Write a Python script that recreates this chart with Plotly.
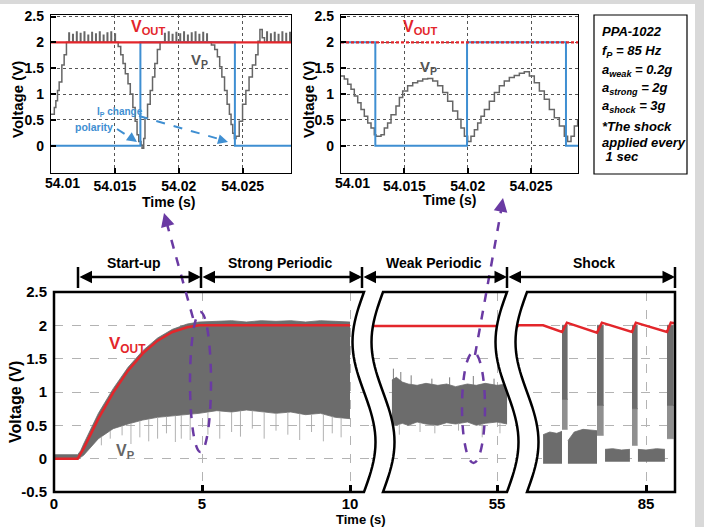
import math
import numpy as np
import plotly.graph_objects as go

# ------------------------------------------------------------------ DATA
# Top-left zoom (t = 54.01 ... 54.0288 s): Vp staircase, IP and VOUT
tl_vp_t = [54.01000, 54.01026, 54.01038, 54.01051, 54.01064, 54.01085, 54.01103, 54.01121,
           54.01526, 54.01546, 54.01564, 54.01582, 54.01603, 54.01621, 54.01641, 54.01659,
           54.01674, 54.01687, 54.01705, 54.01713, 54.01726, 54.01736, 54.01756, 54.01777,
           54.01795, 54.01813, 54.01833, 54.01854,
           54.02256, 54.02282, 54.02303, 54.02321, 54.02338, 54.02359, 54.02379, 54.02397,
           54.02410, 54.02423, 54.02436, 54.02449, 54.02474, 54.02500, 54.02526, 54.02551,
           54.02577, 54.02603, 54.02621, 54.02636, 54.02654, 54.02672, 54.02880]
tl_vp_v = [0.61, 0.74, 0.87, 1.07, 1.23, 1.56, 1.76, 2.00,
           1.92, 1.76, 1.59, 1.39, 1.20, 1.00, 0.74, 0.47,
           0.21, 0.08, 0.01, -0.05, 0.14, 0.54, 0.80, 1.07,
           1.33, 1.59, 1.86, 2.00,
           1.95, 1.86, 1.72, 1.53, 1.33, 1.07, 0.80, 0.61,
           0.41, 0.24, 0.14, 0.18, 0.47, 0.80, 1.07, 1.33,
           1.56, 1.76, 2.02, 2.25, 2.09, 2.00, 2.00]
tl_spike_t = [54.0114, 54.0117, 54.0120, 54.0123, 54.0126, 54.0129, 54.0132, 54.0135,
              54.0138, 54.0141, 54.0144, 54.0147, 54.0150,
              54.0189, 54.0192, 54.0195, 54.0198, 54.0201, 54.0204, 54.0207, 54.0210,
              54.0213, 54.0216, 54.0219, 54.0222,
              54.0269, 54.0272, 54.0275, 54.0278, 54.0281, 54.0284, 54.0287]
tl_spike_v = [2.18, 2.15, 2.20, 2.17, 2.20, 2.14, 2.19, 2.16, 2.20, 2.14, 2.18, 2.20, 2.16,
              2.17, 2.20, 2.15, 2.19, 2.16, 2.20, 2.14, 2.18, 2.20, 2.15, 2.19, 2.16,
              2.20, 2.16, 2.19, 2.15, 2.20, 2.17, 2.19]
tl_ip_t = [54.0100, 54.0170, 54.0244, 54.0288]
tl_ip_v = [0.0, 2.0, 0.0, 0.0]
tl_vout_t = [54.0100, 54.0288]
tl_vout_v = [2.0, 2.0]

# Top-right zoom
tr_vp_t = [54.01000, 54.01026, 54.01053, 54.01079, 54.01105, 54.01132, 54.01158, 54.01184,
           54.01211, 54.01237, 54.01263, 54.01276, 54.01316, 54.01342, 54.01368, 54.01395,
           54.01434, 54.01461, 54.01487, 54.01526, 54.01566, 54.01605, 54.01645, 54.01684,
           54.01724, 54.01763, 54.01803, 54.01842, 54.01882, 54.01921, 54.01947, 54.01974,
           54.02000, 54.02026, 54.02053, 54.02079, 54.02105, 54.02132, 54.02171, 54.02211,
           54.02250, 54.02289, 54.02329, 54.02368, 54.02408, 54.02447, 54.02487, 54.02526,
           54.02566, 54.02605, 54.02645, 54.02684, 54.02724, 54.02763, 54.02789, 54.02816,
           54.02842, 54.02868]
tr_vp_v = [1.35, 1.29, 1.19, 1.09, 0.96, 0.83, 0.70, 0.57,
           0.44, 0.34, 0.21, 0.18, 0.21, 0.34, 0.44, 0.60,
           0.77, 0.93, 1.06, 1.16, 1.22, 1.25, 1.29, 1.30,
           1.25, 1.16, 1.03, 0.86, 0.67, 0.51, 0.34, 0.18,
           0.08, 0.18, 0.31, 0.44, 0.57, 0.70, 0.86, 1.03,
           1.16, 1.25, 1.32, 1.36, 1.40, 1.43, 1.35, 1.22,
           1.06, 0.90, 0.70, 0.54, 0.38, 0.18, 0.08, 0.18,
           0.38, 0.51]
tr_ip_t = [54.0100, 54.01271, 54.01995, 54.02776, 54.0288]
tr_ip_v = [2.0, 0.0, 2.0, 0.0, 0.0]
tr_vout_t = [54.0100, 54.0288]
tr_vout_v = [2.0, 2.0]

# Main chart, segment 1 (start-up + strong periodic), t in s
s1_t = [0, 0.8, 0.9, 1.0, 1.5, 2.0, 2.5, 3.0, 3.5, 4.0, 4.5, 4.9, 5.5, 6.0, 6.5,
        7.0, 7.5, 8.0, 8.5, 9.0, 9.5, 10.0]
s1_vp_hi = [0.06, 0.06, 0.12, 0.22, 0.68, 1.05, 1.37, 1.62, 1.81, 1.94, 2.02, 2.05, 2.06,
            2.07, 2.05, 2.07, 2.06, 2.07, 2.05, 2.07, 2.06, 2.05]
s1_vp_lo = [-0.01, -0.01, 0.02, 0.05, 0.30, 0.45, 0.52, 0.58, 0.62, 0.64, 0.66, 0.68, 0.72,
            0.70, 0.73, 0.70, 0.68, 0.70, 0.66, 0.68, 0.62, 0.60]
s1_dip_t = [1.6, 1.9, 2.3, 2.6, 2.9, 3.2, 3.5, 3.8, 4.1, 4.3, 4.6, 5.2, 5.6, 6.0, 6.3,
            6.7, 7.1, 7.5, 7.9, 8.3, 8.7, 9.1, 9.4, 9.7]
s1_dip_v = [0.20, 0.30, 0.35, 0.22, 0.32, 0.26, 0.30, 0.38, 0.25, 0.30, 0.28, 0.36, 0.30,
            0.40, 0.33, 0.45, 0.30, 0.42, 0.36, 0.28, 0.40, 0.26, 0.38, 0.32]
s1_vout_t = [0, 0.8, 1.0, 1.5, 2.0, 2.5, 3.0, 3.5, 4.0, 4.5, 4.9, 10.0]
s1_vout_v = [0, 0, 0.15, 0.60, 0.99, 1.32, 1.58, 1.77, 1.90, 1.97, 2.00, 2.00]

# Segment 2 (weak periodic)
s2_t = [51.45, 51.6, 51.8, 52.0, 52.3, 52.6, 53.0, 53.3, 53.6, 54.0, 54.3, 54.6, 55.0, 55.34]
s2_vp_hi = [1.18, 1.22, 1.15, 1.12, 1.10, 1.13, 1.10, 1.12, 1.08, 1.12, 1.10, 1.13, 1.10, 1.12]
s2_vp_lo = [0.52, 0.50, 0.53, 0.50, 0.55, 0.52, 0.50, 0.54, 0.52, 0.55, 0.50, 0.53, 0.55, 0.52]
s2_peak_t = [51.5, 51.75, 52.1, 52.8, 53.4, 54.2, 54.9]
s2_peak_v = [1.35, 1.30, 1.25, 1.20, 1.22, 1.24, 1.20]
s2_dip_t = [51.7, 52.4, 52.9, 53.7, 54.5, 55.1]
s2_dip_v = [0.36, 0.40, 0.38, 0.42, 0.32, 0.38]
s2_vout_t = [50.7, 55.8]
s2_vout_v = [1.99, 1.99]

# Segment 3 (shock every 1 s): low-level Vp blocks between shocks
s3_block_t = [[82.06, 82.25, 82.45, 82.60],
              [82.77, 82.95, 83.20, 83.45, 83.60],
              [83.83, 84.05, 84.30, 84.54],
              [84.77, 85.00, 85.30, 85.54],
              [85.80, 85.86]]
s3_block_hi = [[0.36, 0.40, 0.38, 0.41],
               [0.27, 0.40, 0.44, 0.43, 0.42],
               [0.14, 0.15, 0.13, 0.14],
               [0.14, 0.13, 0.15, 0.14],
               [0.14, 0.14]]
s3_block_lo = [[-0.07, -0.07, -0.07, -0.07],
               [-0.07, -0.07, -0.07, -0.07, -0.07],
               [-0.04, -0.04, -0.04, -0.04],
               [-0.04, -0.04, -0.04, -0.04],
               [-0.04, -0.04]]
# shock bursts: start, end, top, bottom of dense part, bottom of faint part
s3_shock_t0 = [82.60, 83.60, 84.60, 85.60]
s3_shock_t1 = [82.76, 83.79, 84.76, 85.79]
s3_shock_top = [2.00, 2.00, 2.00, 2.00]
s3_shock_dense = [0.89, 0.80, 0.75, 0.80]
s3_shock_faint = [0.44, 0.35, 0.20, 0.30]
s3_vout_t = [81.26, 82.06, 82.60, 82.74, 83.60, 83.74, 84.60, 84.71, 85.60, 85.71, 85.86]
s3_vout_v = [2.00, 2.00, 1.90, 2.04, 1.89, 2.04, 1.90, 2.04, 1.90, 2.04, 2.03]

top_xticks = [54.015, 54.02, 54.025]
top_yticks = [0, 0.5, 1, 1.5, 2, 2.5]
main_yticks = [-0.5, 0, 0.5, 1, 1.5, 2, 2.5]
main_ylabels = ["-0.5", "0", "0.5", "1", "1.5", "2", "2.5"]

# ------------------------------------------------------------------ STYLE / LAYOUT HELPERS
W, H = 704, 527
def X(px): return px / W
def Y(py): return 1 - py / H

FONT = "Liberation Sans"
RED = "#e3262b"
BLUE = "#3f8fd2"
GRAY = "#6c6c6c"
LGRAY = "#a8a8a8"
PURPLE = "#6a3aa3"

fig = go.Figure()

def line(x, y, xa, ya, color, width, shape="linear", dash="solid"):
    fig.add_trace(go.Scatter(x=x, y=y, xaxis=xa, yaxis=ya, mode="lines",
                             line=dict(color=color, width=width, shape=shape, dash=dash),
                             hoverinfo="skip", showlegend=False))

def with_spikes(bt, bv, st, sv, w=0.00004, level=2.0):
    pts = list(zip(bt, bv))
    for t, v in zip(st, sv):
        pts.append((t, v))
        pts.append((t + w, level))
    pts.sort(key=lambda p: p[0])
    return [p[0] for p in pts], [p[1] for p in pts]

def band(t, lo, hi, xa, ya, color=GRAY):
    fig.add_trace(go.Scatter(x=t, y=lo, xaxis=xa, yaxis=ya, mode="lines",
                             line=dict(color=color, width=0.8), hoverinfo="skip", showlegend=False))
    fig.add_trace(go.Scatter(x=t, y=hi, xaxis=xa, yaxis=ya, mode="lines", fill="tonexty",
                             fillcolor=color, line=dict(color=color, width=0.8),
                             hoverinfo="skip", showlegend=False))

def vlines(ts, base_t, base_v, tips, xa, ya, color, width=1.0):
    xs, ys = [], []
    for t, v in zip(ts, tips):
        b = float(np.interp(t, base_t, base_v))
        xs += [t, t, None]
        ys += [b, v, None]
    line(xs, ys, xa, ya, color, width)

# ------------------------------------------------------------------ TRACES
vx, vy = with_spikes(tl_vp_t, tl_vp_v, tl_spike_t, tl_spike_v)
line(vx, vy, "x", "y", "#666666", 1.5, shape="hv")
line(tl_ip_t, tl_ip_v, "x", "y", BLUE, 2, shape="hv")
line(tl_vout_t, tl_vout_v, "x", "y", RED, 2.2)

line(tr_vp_t, tr_vp_v, "x2", "y2", "#666666", 1.5, shape="hv")
line(tr_ip_t, tr_ip_v, "x2", "y2", BLUE, 2, shape="hv")
line(tr_vout_t, tr_vout_v, "x2", "y2", RED, 2.2, dash="3px,2px")

band(s1_t, s1_vp_lo, s1_vp_hi, "x3", "y3")
vlines(s1_dip_t, s1_t, s1_vp_lo, s1_dip_v, "x3", "y3", LGRAY, 0.9)
line(s1_vout_t, s1_vout_v, "x3", "y3", RED, 2.5)

band(s2_t, s2_vp_lo, s2_vp_hi, "x4", "y4")
vlines(s2_peak_t, s2_t, s2_vp_hi, s2_peak_v, "x4", "y4", GRAY, 0.9)
vlines(s2_dip_t, s2_t, s2_vp_lo, s2_dip_v, "x4", "y4", LGRAY, 0.9)
line(s2_vout_t, s2_vout_v, "x4", "y4", RED, 2.5)

for bt, bh, bl in zip(s3_block_t, s3_block_hi, s3_block_lo):
    band(bt, bl, bh, "x5", "y5")
for t0, t1, top, dn, fb in zip(s3_shock_t0, s3_shock_t1, s3_shock_top, s3_shock_dense, s3_shock_faint):
    band([t0, t1], [fb, fb], [dn, dn], "x5", "y5", color="#8f8f8f")
    band([t0, t1], [dn, dn], [top, top], "x5", "y5")
line(s3_vout_t, s3_vout_v, "x5", "y5", RED, 2.5)

# ------------------------------------------------------------------ AXES
tickfont_top = dict(family=FONT, size=14, color="black", weight="bold")
tickfont_main = dict(family=FONT, size=15, color="black", weight="bold")

def top_x(dom, rng, anchor):
    return dict(domain=[X(dom[0]), X(dom[1])], range=rng, anchor=anchor,
                tickvals=top_xticks, ticktext=["54.015", "54.02", "54.025"],
                ticks="inside", ticklen=5, tickwidth=2, tickcolor="black",
                showgrid=True, gridcolor="#555555", griddash="dot", gridwidth=1,
                showline=True, mirror=True, linecolor="black", linewidth=1.3,
                zeroline=False, tickfont=tickfont_top, ticklabelstandoff=0, automargin=False)

def top_y(anchor):
    return dict(domain=[Y(173), Y(15)], range=[-0.53, 2.53], anchor=anchor,
                tickvals=top_yticks, ticktext=["0", "0.5", "1", "1.5", "2", "2.5"],
                ticks="inside", ticklen=5, tickwidth=2, tickcolor="black",
                showgrid=True, gridcolor="#555555", griddash="dot", gridwidth=1,
                showline=True, mirror=True, linecolor="black", linewidth=1.3,
                zeroline=False, tickfont=tickfont_top, ticklabelstandoff=3, automargin=False)

PXS1 = 29.6   # px per second, segments 1-2
PXS3 = 35.0   # px per second, segment 3

def main_x(dom, rng, anchor, tv):
    return dict(domain=[X(dom[0]), X(dom[1])], range=rng, anchor=anchor,
                tickvals=tv, ticktext=[str(v) for v in tv],
                ticks="inside", ticklen=7, tickwidth=2.5, tickcolor="black",
                showgrid=True, gridcolor="#b3b3b3", griddash="dash", gridwidth=1,
                showline=False, zeroline=False, tickfont=tickfont_main, ticklabelstandoff=1,
                automargin=False)

def main_y(anchor, labels):
    return dict(domain=[Y(492), Y(292)], range=[-0.5, 2.5], anchor=anchor,
                tickvals=main_yticks, ticktext=main_ylabels, showticklabels=labels,
                ticks="", showgrid=True, gridcolor="#b3b3b3", griddash="dash", gridwidth=1,
                showline=False, zeroline=False, tickfont=tickfont_main, ticklabelstandoff=6,
                automargin=False)

fig.update_layout(
    width=W, height=H, margin=dict(l=0, r=0, t=0, b=0, pad=0, autoexpand=False), autosize=False,
    paper_bgcolor="white", plot_bgcolor="rgba(0,0,0,0)", showlegend=False,
    font=dict(family=FONT),
    xaxis=top_x((51, 291), [54.01, 54.01 + 240 / 12770], "y"),
    yaxis=top_y("x"),
    xaxis2=top_x((341, 578), [54.01, 54.01 + 237 / 12667], "y2"),
    yaxis2=top_y("x2"),
    xaxis3=main_x((54, 376), [0, (376 - 54) / PXS1], "y3", [0, 5, 10]),
    yaxis3=main_y("x3", True),
    xaxis4=main_x((371, 519), [55 + (371 - 497) / PXS1, 55 + (519 - 497) / PXS1], "y4", [55]),
    yaxis4=main_y("x4", False),
    xaxis5=main_x((515, 675), [85 + (515 - 646) / PXS3, 85 + (675 - 646) / PXS3], "y5", [85]),
    yaxis5=main_y("x5", False),
)

# ------------------------------------------------------------------ SHAPES
shapes = []
shapes.append(dict(type="rect", xref="paper", yref="paper", x0=0, x1=1, y0=Y(4), y1=1,
                   fillcolor="#d9d9d9", line=dict(width=0), layer="below"))
shapes.append(dict(type="rect", xref="paper", yref="paper", x0=X(695), x1=1, y0=0, y1=1,
                   fillcolor="#d9d9d9", line=dict(width=0), layer="below"))

YT, YB, AMP = 292, 492, 11.5
def curve(x0, down=True, n=40):
    ys = [YT + (YB - YT) * i / n for i in range(n + 1)]
    if not down:
        ys = ys[::-1]
    return [(x0 - AMP * math.sin(2 * math.pi * (y - YT) / (YB - YT)), y) for y in ys]

def path(pts, close=True):
    s = "M " + " L ".join(f"{X(px):.5f},{Y(py):.5f}" for px, py in pts)
    return s + (" Z" if close else "")

for xl, xr in [(364, 383), (507, 527)]:
    shapes.append(dict(type="path", xref="paper", yref="paper",
                       path=path(curve(xl, True) + curve(xr, False)),
                       fillcolor="white", line=dict(width=0), layer="above"))
FR = dict(color="black", width=2.5)
shapes.append(dict(type="path", xref="paper", yref="paper", layer="above", line=FR,
                   path=path([(54, YT)] + curve(364, True) + [(54, YB)])))
shapes.append(dict(type="path", xref="paper", yref="paper", layer="above", line=FR,
                   path=path(curve(507, True) + curve(383, False))))
shapes.append(dict(type="path", xref="paper", yref="paper", layer="above", line=FR,
                   path=path([(675, YT), (675, YB)] + curve(527, False))))

for xb in [78, 201, 362, 507, 675]:
    shapes.append(dict(type="line", xref="paper", yref="paper", x0=X(xb), x1=X(xb),
                       y0=Y(288), y1=Y(267), line=dict(color="black", width=2.5)))

shapes.append(dict(type="rect", xref="paper", yref="paper", x0=X(594), x1=X(687),
                   y0=Y(174), y1=Y(15), line=dict(color="black", width=1.2), fillcolor="white",
                   layer="below"))

PD = dict(color=PURPLE, width=2.5, dash="dash")
shapes.append(dict(type="circle", xref="paper", yref="paper", x0=X(190), x1=X(211),
                   y0=Y(452), y1=Y(312), line=PD, layer="above"))
shapes.append(dict(type="circle", xref="paper", yref="paper", x0=X(462), x1=X(485),
                   y0=Y(463), y1=Y(352), line=PD, layer="above"))
shapes.append(dict(type="line", xref="paper", yref="paper", x0=X(193), y0=Y(318),
                   x1=X(167), y1=Y(224), line=PD, layer="above"))
shapes.append(dict(type="line", xref="paper", yref="paper", x0=X(475), y0=Y(355),
                   x1=X(501), y1=Y(211), line=PD, layer="above"))

BD = dict(color=BLUE, width=2, dash="dash")
shapes.append(dict(type="line", xref="paper", yref="paper", x0=X(117), y0=Y(129),
                   x1=X(131), y1=Y(138), line=BD))
shapes.append(dict(type="line", xref="paper", yref="paper", x0=X(139), y0=Y(116),
                   x1=X(219), y1=Y(139), line=BD))
fig.update_layout(shapes=shapes)

# ------------------------------------------------------------------ ANNOTATIONS
def txt(s, x, y, size, color="black", xanchor="center", angle=0, italic=False):
    fig.add_annotation(text=s, x=X(x), y=Y(y), xref="paper", yref="paper", showarrow=False,
                       xanchor=xanchor, yanchor="middle", textangle=angle,
                       font=dict(family=FONT, size=size, color=color, weight="bold",
                                 style="italic" if italic else "normal"))

def head(tx, ty, ax, ay, color, width, size=1.0):
    fig.add_annotation(x=X(tx), y=Y(ty), xref="paper", yref="paper", ax=ax, ay=ay,
                       axref="pixel", ayref="pixel", text="", showarrow=True,
                       arrowhead=2, arrowsize=size, arrowwidth=width, arrowcolor=color)

txt("Voltage (V)", 18, 100, 15, angle=-90)
txt("Voltage (V)", 309, 100, 15, angle=-90)
txt("Time (s)", 168, 202, 14)
txt("Time (s)", 449, 200, 14)
txt("54.01", 62, 183, 14)
txt("54.01", 352, 183, 14)
txt("Voltage (V)", 15, 402, 16, angle=-90)
txt("Time (s)", 361, 519, 13)

txt("V<sub>OUT</sub>", 148, 28, 16, RED)
txt("V<sub>OUT</sub>", 420, 28, 16, RED)
txt("V<sub>P</sub>", 199, 61, 15, "#555555")
txt("V<sub>P</sub>", 428, 67, 15, "#555555")
txt("I<sub>P</sub> change", 95, 112, 10, BLUE, xanchor="left")
txt("polarity", 94, 127, 10.5, BLUE)
txt("V<sub>OUT</sub>", 127, 345, 17, RED)
txt("V<sub>P</sub>", 125, 451, 16, "#666666")

head(137, 142, -8, -5.7, BLUE, 2)
head(228, 142, -9.6, -2.7, BLUE, 2)
head(164, 213, 3.8, 13.4, PURPLE, 2.5, 1.1)
head(503, 198, -2.5, 13.8, PURPLE, 2.5, 1.1)

for (x0, x1) in [(78, 201), (201, 362), (362, 507), (507, 675)]:
    fig.add_annotation(x=X(x1), y=Y(277), xref="paper", yref="paper", ax=x0 - x1, ay=0,
                       axref="pixel", ayref="pixel", text="", showarrow=True,
                       arrowhead=2, startarrowhead=2, arrowside="end+start",
                       arrowsize=1, startarrowsize=1, arrowwidth=2.5, arrowcolor="black")
txt("Start-up", 134, 263, 14)
txt("Strong Periodic", 280, 263, 14)
txt("Weak Periodic", 434, 263, 14)
txt("Shock", 594, 263, 14)

info = [("PPA-1022", 32), ("f<sub>P</sub> = 85 Hz", 51), ("a<sub>weak</sub> = 0.2g", 70),
        ("a<sub>strong</sub> = 2g", 88), ("a<sub>shock</sub> = 3g", 106),
        ("*The shock", 127), ("applied every", 142), (" 1 sec", 157)]
for s, yy in info:
    txt(s, 600, yy, 13, xanchor="left", italic=True)

fig.write_html("out.html", config={"displayModeBar": False},
               post_script="document.body.style.margin='0';document.body.style.overflow='hidden';")
